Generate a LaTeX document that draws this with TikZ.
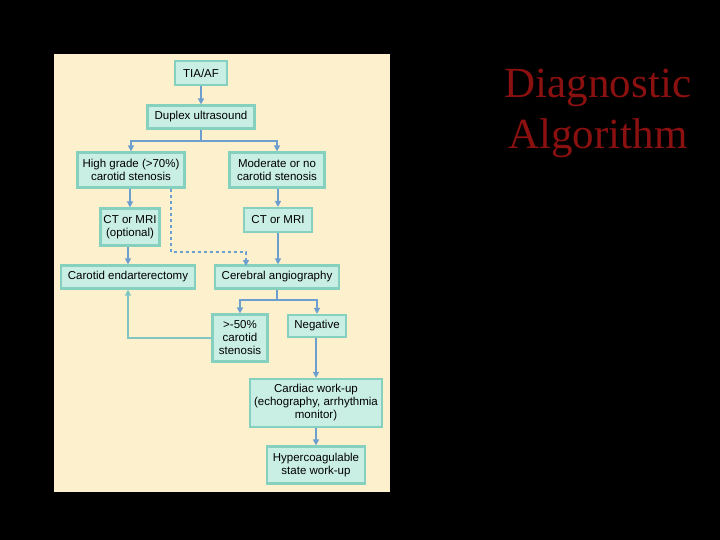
\documentclass[tikz,border=0pt]{standalone}
\usepackage{fontspec}
\setmainfont{Liberation Sans}
\newfontfamily\titlefont{Liberation Serif}
\usetikzlibrary{arrows.meta}
\definecolor{panel}{HTML}{FCF1CC}
\definecolor{boxfill}{HTML}{C9EEE4}
\definecolor{boxline}{HTML}{86D0C0}
\definecolor{arr}{HTML}{6C9FCF}
\definecolor{titlered}{HTML}{8B1010}
\tikzset{
 bx/.style={draw=boxline,fill=boxfill,line width=2.2pt,align=center,font=\fontsize{11.5}{13}\selectfont,inner sep=0pt,anchor=center},
 ar/.style={draw=arr,line width=2.2pt,-{Triangle[length=6pt,width=6pt]}},
 ln/.style={draw=arr,line width=2.2pt},
}
\begin{document}
\begin{tikzpicture}[x=1pt,y=-1pt]
\useasboundingbox (0,0) rectangle (720,540);
\fill[black] (0,0) rectangle (720,540);
\fill[panel] (54,54) rectangle (390,492);
\node[bx,minimum width=52,minimum height=24] (tia) at (201,73) {TIA/AF};
\node[bx,minimum width=107,minimum height=23] (dup) at (201,117) {Duplex ultrasound};
\node[bx,minimum width=107,minimum height=35] (high) at (131,170) {High grade (>70\%)\\carotid stenosis};
\node[bx,minimum width=95,minimum height=35] (mod) at (277,170) {Moderate or no\\carotid stenosis};
\node[bx,minimum width=59,minimum height=37] (cto) at (130,227) {CT or MRI\\(optional)};
\node[bx,minimum width=68,minimum height=24] (ct) at (278,220) {CT or MRI};
\node[bx,minimum width=134,minimum height=23] (end) at (128,277) {Carotid endarterectomy};
\node[bx,minimum width=124,minimum height=23] (ang) at (277,277) {Cerebral angiography};
\node[bx,minimum width=55,minimum height=47] (fifty) at (240,338) {>-50\%\\carotid\\stenosis};
\node[bx,minimum width=58,minimum height=22] (neg) at (317,326) {Negative};
\node[bx,minimum width=132,minimum height=48] (card) at (316,403) {Cardiac work-up\\(echography, arrhythmia\\monitor)};
\node[bx,minimum width=98,minimum height=37] (hyp) at (316,465) {Hypercoagulable\\state work-up};
\draw[ar] (tia) -- (dup);
\coordinate (s1) at (201,141);
\draw[ln] (dup) -- (s1);
\draw[ar] (s1) -| (high.north);
\draw[ar] (s1) -| (mod.north);
\draw[ar] (high.south -| cto.north) -- (cto.north);
\draw[ar] (mod.south -| ct.north) -- (ct.north);
\draw[ar] (cto.south -| end.north) -- (end.north);
\draw[ar] (ct) -- (ct.south |- ang.north);
\coordinate (d1) at (171,252);
\draw[arr,line width=2pt,dashed,-{Triangle[length=6pt,width=6pt]}] (high.south -| d1) -- (d1) -| (246,266);
\coordinate (s2) at (277,300);
\draw[ln] (ang) -- (s2);
\draw[ar] (s2) -| (fifty.north);
\draw[ar] (s2) -| (neg.north);
\draw[draw=boxline!80!arr,line width=2.2pt,-{Triangle[length=6pt,width=6pt]}] (fifty.west) -| (end.south);
\draw[ar] (neg.south -| card.north) -- (card.north);
\draw[ar] (card) -- (hyp);
\node[font=\titlefont\fontsize{43}{51}\selectfont,text=titlered,align=center] (title) at (598,113) {Diagnostic\\Algorithm};
\end{tikzpicture}
\end{document}
